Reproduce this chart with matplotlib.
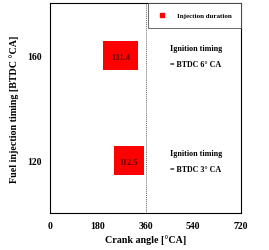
import matplotlib.pyplot as plt

# injection timings (BTDC) and durations (CA)
inj_timing = [160, 120]
inj_duration = [131.4, 112.5]
ign_labels = ['= BTDC 6° CA', '= BTDC 3° CA']
xticks = [0, 180, 360, 540, 720]

plt.rcParams['font.family'] = ['Liberation Serif', 'DejaVu Serif']
plt.rcParams['font.weight'] = 'bold'

fig = plt.figure(figsize=(2.69, 2.51), dpi=100)
ax = fig.add_axes([50/269, 37/251, 191/269, 210/251])

starts = [360 - t for t in inj_timing]
bars = ax.barh(inj_timing, inj_duration, left=starts, height=11, color='#ff0000',
               label='Injection duration')
for s, t, d in zip(starts, inj_timing, inj_duration):
    ax.text(s + d / 2, t - 0.5, '%.1f' % d, ha='center', va='center',
            fontsize=6, color='#6a0000', fontweight='bold')

ax.axvline(360, color='#666666', lw=0.7, ls=(0, (1, 1)))

for t, lab in zip(inj_timing, ign_labels):
    ax.text(453, t + 2.8, 'Ignition timing', ha='left', va='center', fontsize=5.8,
            fontweight='bold')
    ax.text(453, t - 3.3, lab, ha='left', va='center', fontsize=5.8,
            fontweight='bold')

ax.set_xlim(0, 720)
ax.set_ylim(100, 180)
ax.set_xticks(xticks)
ax.set_yticks(inj_timing)
ax.tick_params(length=0, labelsize=7, pad=6)
for lab in ax.get_xticklabels() + ax.get_yticklabels():
    lab.set_fontweight('bold')
ax.set_xlabel('Crank angle [°CA]', fontsize=7.2, fontweight='bold', labelpad=3)
ax.set_ylabel('Fuel injection timing [BTDC °CA]', fontsize=7.2, fontweight='bold',
              labelpad=6)
for sp in ax.spines.values():
    sp.set_linewidth(0.8)

leg = ax.legend(handles=[plt.Line2D([], [], marker='s', color='#ff0000', ls='',
                                    markersize=3)],
                labels=['Injection duration'], loc='upper right',
                fontsize=5, frameon=True, fancybox=False,
                borderaxespad=0, borderpad=1.35, handletextpad=1.6,
                handlelength=1.2)
leg.get_frame().set_edgecolor('#444444')
leg.get_frame().set_linewidth(0.7)

fig.savefig('out.png', dpi=100)
